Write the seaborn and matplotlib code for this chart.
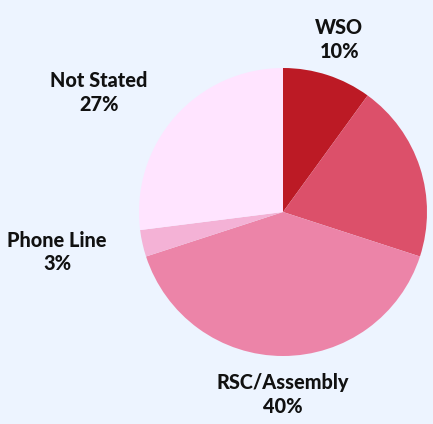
import numpy as np
import matplotlib
matplotlib.use("Agg")
import matplotlib.pyplot as plt
import seaborn as sns

# ---- data ----
categories = ["WSO", "", "RSC/Assembly", "Phone Line", "Not Stated"]
shares = [10, 20, 40, 3, 27]
colors = ["#BC1A25", "#DC506A", "#EC84A8", "#F4B2D6", "#FFE4FF"]

# label anchor offsets (style, in pie-radius units from centre)
label_xy = [(0.39, 1.20), None, (0.0, -1.265), (-1.569, -0.278), (-1.278, 0.83)]

sns.set_theme(style="white")
plt.rcParams["font.family"] = ["Lato", "DejaVu Sans"]

W, H = 433, 424
fig = plt.figure(figsize=(W / 100, H / 100), dpi=100)
fig.patch.set_facecolor("#EDF4FF")

cx, cy, r = 283, 212, 144
ax = fig.add_axes([(cx - r) / W, (H - cy - r) / H, 2 * r / W, 2 * r / H])
ax.set_facecolor("#EDF4FF")

pal = sns.color_palette(colors)
wedges, _ = ax.pie(shares, colors=pal, startangle=90, counterclock=False,
                   wedgeprops=dict(linewidth=0))
ax.set_xlim(-1, 1)
ax.set_ylim(-1, 1)
ax.set_aspect("equal")
ax.axis("off")

total = sum(shares)
for cat, val, pos in zip(categories, shares, label_xy):
    if not cat or pos is None:
        continue
    ax.text(pos[0], pos[1], f"{cat}\n{round(100 * val / total)}%", ha="center", va="center",
            fontsize=14.3, fontweight="black", color="#111111", linespacing=1.3,
            clip_on=False)

fig.savefig("out.png", dpi=100, facecolor=fig.get_facecolor())
